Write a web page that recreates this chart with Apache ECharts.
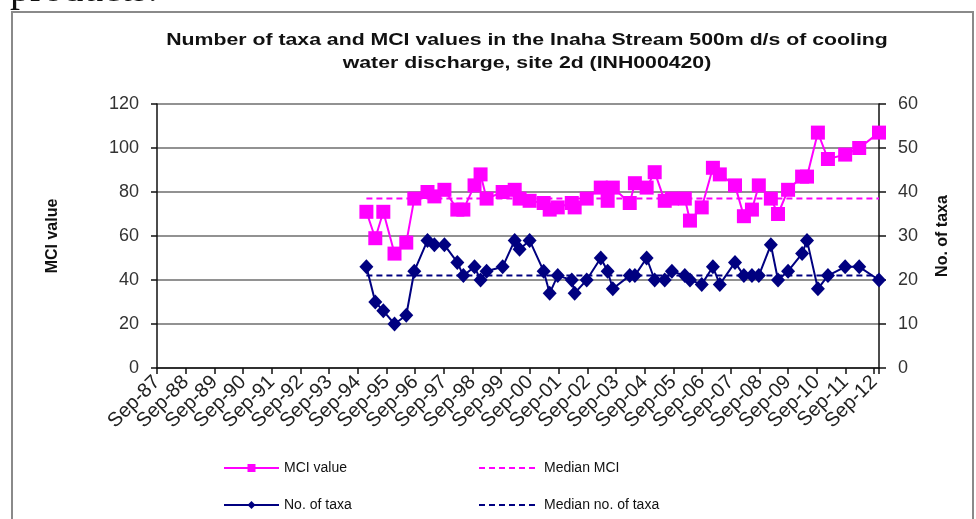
<!DOCTYPE html>
<html><head><meta charset="utf-8">
<script src="https://cdn.jsdelivr.net/npm/echarts@6/dist/echarts.min.js"></script>
<style>html,body{margin:0;padding:0;background:#fff}#c{width:976px;height:519px}</style>
</head><body><div id="c"></div>
<script>
// ---- data ----
const xTickLabels = ['Sep-87','Sep-88','Sep-89','Sep-90','Sep-91','Sep-92','Sep-93','Sep-94','Sep-95','Sep-96','Sep-97','Sep-98','Sep-99','Sep-00','Sep-01','Sep-02','Sep-03','Sep-04','Sep-05','Sep-06','Sep-07','Sep-08','Sep-09','Sep-10','Sep-11','Sep-12'];
const axisStartYear = 1987.67;   // Sep-87
const axisEndYear = 2012.84;
// sampling dates (decimal years)
const sampleDates = [1994.97,1995.28,1995.56,1995.95,1996.36,1996.64,1997.10,1997.34,1997.69,1998.14,1998.35,1998.74,1998.95,1999.16,1999.72,2000.14,2000.31,2000.66,2001.15,2001.36,2001.64,2002.13,2002.23,2002.65,2003.14,2003.38,2003.56,2004.15,2004.33,2004.74,2005.02,2005.37,2005.62,2006.07,2006.25,2006.66,2007.05,2007.29,2007.82,2008.13,2008.41,2008.65,2009.07,2009.32,2009.67,2010.16,2010.33,2010.71,2011.06,2011.66,2012.15,2012.84];
const mciValues = [71,59,71,52,57,77,80,78,81,72,72,83,88,77,80,81,77,76,75,72,73,75,73,77,82,76,82,75,84,82,89,76,77,77,67,73,91,88,83,69,72,83,77,70,81,87,87,107,95,97,100,107];
const taxaValues = [23,15,13,10,12,22,29,28,28,24,21,23,20,22,23,29,27,29,22,17,21,20,17,20,25,22,18,21,21,25,20,20,22,21,20,19,23,19,24,21,21,21,28,20,22,26,29,18,21,23,23,20];
const medianMCI = 77;
const medianTaxa = 21;
const seriesNames = ['MCI value','No. of taxa','Median MCI','Median no. of taxa'];
const titleLines = ['Number of taxa and MCI values in the Inaha Stream 500m d/s of cooling', 'water discharge, site 2d (INH000420)'];

// ---- build ----
const xs = sampleDates.map(d => d - axisStartYear);
const mciData = xs.map((x,i) => [x, mciValues[i]]);
const taxaData = xs.map((x,i) => [x, taxaValues[i]]);
const x0 = xs[0], x1 = xs[xs.length-1];

const chart = echarts.init(document.getElementById('c'), null, {renderer:'canvas'});
const FONT = 'Liberation Sans, Arial, sans-serif';
const legendText = {fontFamily: FONT, fontSize: 14, color: '#111'};
const hideSymbol = {color:'rgba(0,0,0,0)', borderColor:'rgba(0,0,0,0)', borderWidth:0};
chart.setOption({
  animation: false,
  backgroundColor: '#fff',
  graphic: [
    {type:'rect', shape:{x:12,y:12,width:961,height:520}, style:{fill:'none', stroke:'#8a8a8a', lineWidth:2}, silent:true},
    {type:'text', x:10, y:-30, style:{text:'products.', font:'40px "Liberation Serif", serif', fill:'#111'}, silent:true},
    {type:'text', x:527, y:40, scaleX:1.25, style:{text:titleLines[0], font:'bold 17px "Liberation Sans", Arial, sans-serif', fill:'#111', align:'center', verticalAlign:'middle'}, silent:true},
    {type:'text', x:527, y:63, scaleX:1.25, style:{text:titleLines[1], font:'bold 17px "Liberation Sans", Arial, sans-serif', fill:'#111', align:'center', verticalAlign:'middle'}, silent:true}
  ],
  grid: {left: 157, right: 976-879, top: 104, bottom: 519-368, containLabel: false},
  legend: [
    {data:[seriesNames[0]], left:223, top:461, padding:0, itemWidth:55, itemHeight:10, itemGap:5, textStyle:legendText},
    {data:[seriesNames[1]], left:223, top:498, padding:0, itemWidth:55, itemHeight:10, itemGap:5, textStyle:legendText},
    {data:[seriesNames[2]], left:478, top:461, padding:0, itemWidth:60, itemHeight:10, itemGap:5, textStyle:legendText, itemStyle:hideSymbol},
    {data:[seriesNames[3]], left:478, top:498, padding:0, itemWidth:60, itemHeight:10, itemGap:5, textStyle:legendText, itemStyle:hideSymbol}
  ],
  xAxis: {
    type:'value', min:0, max: axisEndYear - axisStartYear, interval:1,
    axisLine:{show:true, lineStyle:{color:'#111', width:1.5}},
    axisTick:{show:true, length:6, lineStyle:{color:'#111', width:1.5}},
    splitLine:{show:false},
    axisLabel:{
      rotate:45, margin:11, fontFamily:FONT, fontSize:20, color:'#222',
      showMaxLabel:true,
      formatter: v => { const r = Math.round(v); return Math.abs(v-r) < 1e-6 && xTickLabels[r] ? xTickLabels[r] : ''; }
    }
  },
  yAxis: [
    {
      type:'value', min:0, max:120, interval:20, position:'left',
      name:'MCI value', nameLocation:'middle', nameGap:96,
      nameTextStyle:{fontFamily:FONT, fontSize:16, fontWeight:'bold', color:'#111'},
      axisLine:{show:true, lineStyle:{color:'#111', width:1.5}},
      axisTick:{show:true, length:6, lineStyle:{color:'#111', width:1.5}},
      axisLabel:{fontFamily:FONT, fontSize:18, color:'#333', margin:18},
      splitLine:{show:true, lineStyle:{color:'#6e6e6e', width:1.5}}
    },
    {
      type:'value', min:0, max:60, interval:10, position:'right',
      name:'No. of taxa', nameLocation:'middle', nameGap:56,
      nameTextStyle:{fontFamily:FONT, fontSize:16, fontWeight:'bold', color:'#111'},
      axisLine:{show:true, lineStyle:{color:'#111', width:1.5}},
      axisTick:{show:true, length:7, lineStyle:{color:'#111', width:1.5}},
      axisLabel:{fontFamily:FONT, fontSize:18, color:'#333', margin:19},
      splitLine:{show:false}
    }
  ],
  series: [
    {name:seriesNames[2], type:'line', yAxisIndex:0, data:[[x0, medianMCI],[x1, medianMCI]],
     symbol:'none', lineStyle:{color:'#ff00ff', width:2, type:[6,4]}, itemStyle:{color:'#ff00ff'}, z:2},
    {name:seriesNames[3], type:'line', yAxisIndex:1, data:[[x0, medianTaxa],[x1, medianTaxa]],
     symbol:'none', lineStyle:{color:'#000080', width:2, type:[6,4]}, itemStyle:{color:'#000080'}, z:2},
    {name:seriesNames[0], type:'line', yAxisIndex:0, data:mciData, clip:false,
     symbol:'rect', symbolSize:14, showAllSymbol:true,
     lineStyle:{color:'#ff00ff', width:2}, itemStyle:{color:'#ff00ff'}, z:4},
    {name:seriesNames[1], type:'line', yAxisIndex:1, data:taxaData, clip:false,
     symbol:'diamond', symbolSize:[14,15], showAllSymbol:true,
     lineStyle:{color:'#000080', width:2}, itemStyle:{color:'#000080'}, z:3}
  ]
});
</script>
</body></html>
